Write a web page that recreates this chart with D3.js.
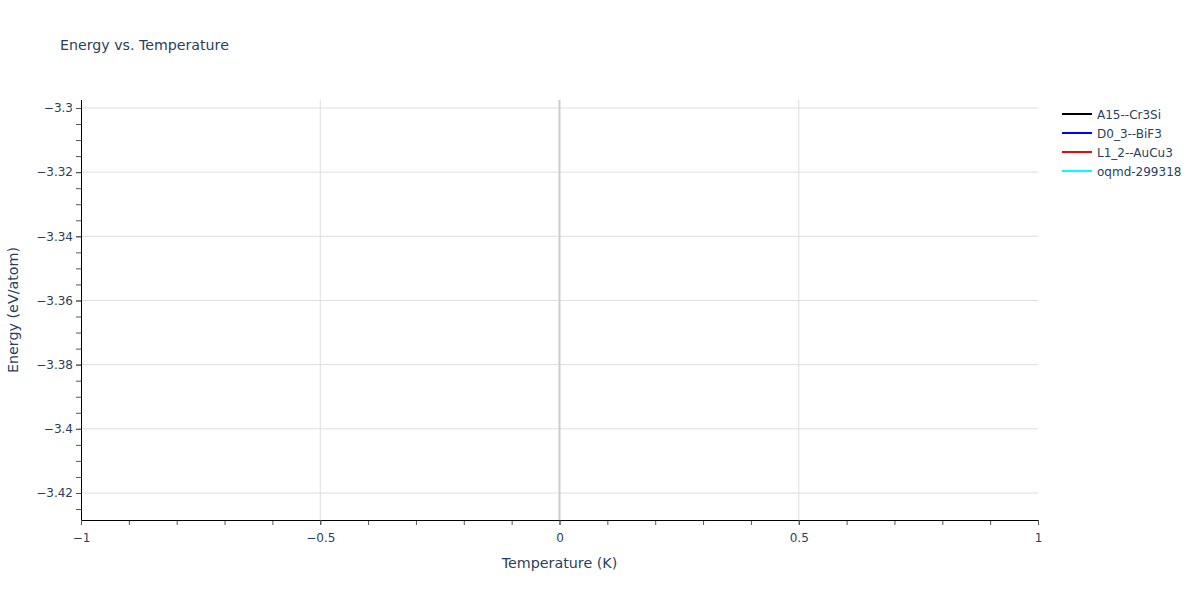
<!DOCTYPE html>
<html>
<head>
<meta charset="utf-8">
<script src="https://cdn.jsdelivr.net/npm/d3@7"></script>
<style>
  body { margin: 0; background: #fff; }
  text { font-family: "DejaVu Sans", Verdana, sans-serif; fill: #2a3f5f; }
</style>
</head>
<body>
<div id="chart"></div>
<script>
var seriesNames = ["A15--Cr3Si", "D0_3--BiF3", "L1_2--AuCu3", "oqmd-299318"];
var seriesColors = ["black", "blue", "red", "cyan"];
// no data points are plotted in the reference
var seriesValues = [[], [], [], []];
var xTicks = [-1, -0.5, 0, 0.5, 1];
var yTicks = [-3.3, -3.32, -3.34, -3.36, -3.38, -3.4, -3.42];

var max_w = 1200, max_h = 600;
var margin = {top: 100, right: 162, bottom: 80, left: 81};
var width = max_w - margin.left - margin.right;
var height = max_h - margin.top - margin.bottom;

var x = d3.scaleLinear().domain([-1, 1]).range([0, width]);
var y = d3.scaleLinear().domain([-3.42842, -3.29751]).range([height, 0]);

var fmt = function(d){ return String(d).replace("-", "\u2212"); };

var svg = d3.select("#chart").append("svg")
  .attr("width", max_w).attr("height", max_h);

svg.append("text")
  .attr("x", 60).attr("y", 50)
  .style("font-size", "14.2px")
  .text("Energy vs. Temperature");

var g = svg.append("g")
  .attr("transform", "translate(" + margin.left + "," + margin.top + ")");

// grid
g.selectAll(".ygrid").data(yTicks).enter().append("line")
  .attr("x1", 0).attr("x2", width)
  .attr("y1", function(d){ return y(d); }).attr("y2", function(d){ return y(d); })
  .attr("stroke", "#dedede").attr("stroke-width", 1);
g.selectAll(".xgrid").data(xTicks.filter(function(d){ return d !== 0 && d !== -1 && d !== 1; })).enter().append("line")
  .attr("y1", 0).attr("y2", height)
  .attr("x1", function(d){ return x(d); }).attr("x2", function(d){ return x(d); })
  .attr("stroke", "#dedede").attr("stroke-width", 1);
// zero line
g.append("line")
  .attr("y1", 0).attr("y2", height)
  .attr("x1", x(0)).attr("x2", x(0))
  .attr("stroke", "#cccccc").attr("stroke-width", 2);

// lines for series (empty)
var line = d3.line().x(function(d){ return x(d[0]); }).y(function(d){ return y(d[1]); });
seriesValues.forEach(function(vals, i){
  g.append("path").datum(vals).attr("d", line)
    .attr("fill", "none").attr("stroke", seriesColors[i]).attr("stroke-width", 2);
});

// x axis
var xMinor = d3.range(-10, 11).map(function(i){ return i / 10; });
var xAxis = g.append("g").attr("transform", "translate(0," + height + ")");
xAxis.call(d3.axisBottom(x).tickValues(xMinor).tickSize(5).tickFormat(""));
xAxis.append("g").call(d3.axisBottom(x).tickValues(xTicks).tickSize(5).tickFormat(fmt));
xAxis.selectAll("path").attr("stroke", "black").attr("d", "M0,0.5H" + width);
xAxis.selectAll("line").attr("stroke", "#555");
xAxis.selectAll("text").style("font-size", "12px").attr("dy", "1.2em")
  .style("font-family", "'DejaVu Sans', Verdana, sans-serif");

// y axis
var yMinor = d3.range(0, 27).map(function(i){ return -3.295 - i * 0.005; }).filter(function(d){ return d >= -3.428 && d <= -3.2976; });
var yAxis = g.append("g");
yAxis.call(d3.axisLeft(y).tickValues(yMinor).tickSize(5).tickFormat(""));
yAxis.append("g").call(d3.axisLeft(y).tickValues(yTicks).tickSize(5).tickFormat(fmt));
yAxis.selectAll("path").attr("stroke", "black").attr("d", "M0.5,0V" + height);
yAxis.selectAll("line").attr("stroke", "#555");
yAxis.selectAll("text").style("font-size", "12px")
  .style("font-family", "'DejaVu Sans', Verdana, sans-serif");

// axis titles
svg.append("text")
  .attr("x", margin.left + width / 2).attr("y", 568)
  .attr("text-anchor", "middle").style("font-size", "14.3px")
  .text("Temperature (K)");
svg.append("text")
  .attr("transform", "translate(18," + (margin.top + height / 2) + ") rotate(-90)")
  .attr("text-anchor", "middle").style("font-size", "14.3px")
  .text("Energy (eV/atom)");

// legend
var leg = svg.append("g").attr("transform", "translate(1062,114)");
seriesNames.forEach(function(name, i){
  var row = leg.append("g").attr("transform", "translate(0," + (i * 19) + ")");
  row.append("line").attr("x1", 0).attr("x2", 30).attr("y1", 0).attr("y2", 0)
    .attr("stroke", seriesColors[i]).attr("stroke-width", 2);
  row.append("text").attr("x", 35).attr("y", 4.5).style("font-size", "12px").text(name);
});
</script>
</body>
</html>
